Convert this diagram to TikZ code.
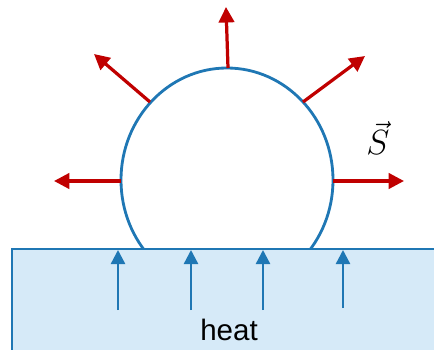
\documentclass[tikz,border=0pt]{standalone}
\usepackage{fontspec}
\setsansfont{Liberation Sans}
\usetikzlibrary{arrows.meta}
\definecolor{bubbleblue}{RGB}{31,119,180}
\definecolor{poyntred}{RGB}{192,0,0}
\definecolor{plateblue}{RGB}{214,234,248}
\tikzset{
  flux/.style={poyntred, line width=2.3pt, -{Triangle[length=11pt,width=11pt]}},
  heatflow/.style={bubbleblue, line width=1.7pt, -{Triangle[length=10pt,width=10pt]}},
  outline/.style={bubbleblue, line width=2pt},
}

\begin{document}
\begin{tikzpicture}[x=0.025cm, y=-0.025cm]
  \useasboundingbox (0,0) rectangle (434,349);
  % Bubble
  \draw[outline] (227,180) ellipse (106 and 112);

  % Heated plate
  \draw[outline, fill=plateblue] (12,249) rectangle (445,360);

  % Outgoing arrows
  \foreach \nm/\sx/\sy/\ex/\ey in {top/228/68/226/7, ul/150/102/94/54, ur/303/102/365/56, l/121/181/54/181, r/333/181/404/181}{
    \coordinate (s-\nm) at (\sx,\sy);
    \coordinate (e-\nm) at (\ex,\ey);
    \draw[flux] (s-\nm) -- (e-\nm);
  }
  \node[font=\fontsize{28}{30}\selectfont] (poynt) at (378,138) {$\vec{S}$};

  % Heat arrows
  \foreach \i/\hx/\hy in {1/118/310, 2/191/310, 3/263/310, 4/343/308}{
    \coordinate (h-\i) at (\hx,\hy);
    \coordinate (p-\i) at (\hx,250);
    \draw[heatflow] (h-\i) -- (p-\i);
  }
  \node[font=\sffamily\fontsize{21}{24}\selectfont] (heatlbl) at (229,330) {heat};
\end{tikzpicture}
\end{document}
